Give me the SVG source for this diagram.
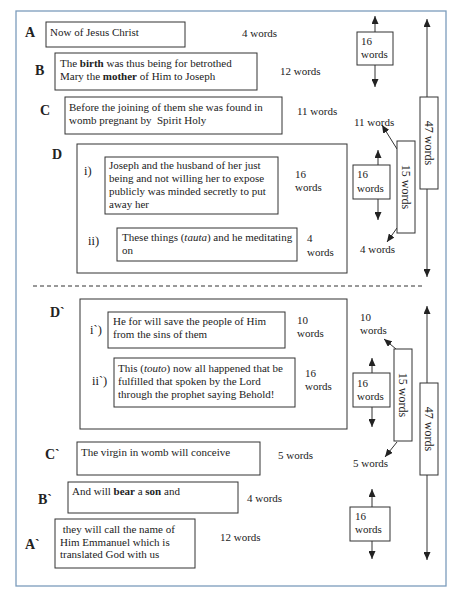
<svg xmlns="http://www.w3.org/2000/svg" width="460" height="601" viewBox="0 0 460 601">
<style>
text{font-family:"Liberation Serif","Times New Roman",serif;fill:#222;font-size:11px}
.lbl{font-size:14px;font-weight:bold}
.sub{font-size:12.5px}
.rot{font-size:12px;text-anchor:middle;dominant-baseline:central}
.box{fill:#fff;stroke:#333;stroke-width:1}
.con{stroke:#333;stroke-width:1;fill:none}
</style>
<defs>
<marker id="ah" markerUnits="userSpaceOnUse" markerWidth="8" markerHeight="7" refX="8" refY="3.5" orient="auto-start-reverse">
<path d="M0,0 L8,3.5 L0,7 z" fill="#222"/>
</marker>
</defs>
<rect x="0" y="0" width="460" height="601" fill="#fff"/>
<rect x="16" y="11" width="430" height="575" fill="none" stroke="#7c9cbc" stroke-width="1.3"/>
<line x1="33" y1="286" x2="422" y2="286" stroke="#333" stroke-width="1" stroke-dasharray="4,3"/>

<g id="connectors">
<line class="con" x1="375" y1="32" x2="375" y2="16" marker-end="url(#ah)"/>
<line class="con" x1="375" y1="65" x2="375" y2="87" marker-end="url(#ah)"/>
<line class="con" x1="427" y1="19" x2="427" y2="277" marker-start="url(#ah)" marker-end="url(#ah)"/>
<line class="con" x1="397" y1="149" x2="382" y2="125" marker-end="url(#ah)"/>
<line class="con" x1="397" y1="228" x2="387" y2="242" marker-end="url(#ah)"/>
<line class="con" x1="378" y1="165" x2="378" y2="150" marker-end="url(#ah)"/>
<line class="con" x1="378" y1="199" x2="378" y2="220" marker-end="url(#ah)"/>
<line class="con" x1="396" y1="349" x2="384" y2="339" marker-end="url(#ah)"/>
<line class="con" x1="397" y1="442" x2="385" y2="457" marker-end="url(#ah)"/>
<line class="con" x1="372" y1="373" x2="372" y2="358" marker-end="url(#ah)"/>
<line class="con" x1="372" y1="407" x2="372" y2="427" marker-end="url(#ah)"/>
<line class="con" x1="427" y1="306" x2="427" y2="560" marker-start="url(#ah)" marker-end="url(#ah)"/>
<line class="con" x1="372" y1="507" x2="372" y2="489" marker-end="url(#ah)"/>
<line class="con" x1="372" y1="541" x2="372" y2="559" marker-end="url(#ah)"/>
</g>

<g id="nodeA">
<text class="lbl" x="25" y="37">A</text>
<rect class="box" x="46" y="22" width="139" height="25"/>
<text x="50" y="36">Now of Jesus Christ</text>
<text x="242" y="37">4 words</text>
</g>

<g id="nodeB">
<text class="lbl" x="35" y="75">B</text>
<rect class="box" x="55" y="53" width="202" height="37"/>
<text x="60" y="67">The <tspan font-weight="bold">birth</tspan> was thus being for betrothed</text>
<text x="60" y="80">Mary the <tspan font-weight="bold">mother</tspan> of Him to Joseph</text>
<text x="280" y="75">12 words</text>
</g>

<g id="nodeC">
<text class="lbl" x="40" y="115">C</text>
<rect class="box" x="65" y="97" width="217" height="37"/>
<text x="69" y="111">Before the joining of them she was found in</text>
<text x="69" y="124" xml:space="preserve">womb pregnant by  Spirit Holy</text>
<text x="297" y="115">11 words</text>
</g>

<g id="nodeD">
<text class="lbl" x="52" y="159">D</text>
<rect class="box" x="77" y="144" width="270" height="129"/>
</g>

<g id="nodeDi">
<text class="sub" x="84" y="175">i)</text>
<rect class="box" x="105" y="157" width="173" height="57"/>
<text x="109" y="169">Joseph and the husband of her just</text>
<text x="109" y="182">being and not willing her to expose</text>
<text x="109" y="195">publicly was minded secretly to put</text>
<text x="109" y="208">away her</text>
<text x="295" y="178">16</text>
<text x="295" y="191">words</text>
</g>

<g id="nodeDii">
<text class="sub" x="88" y="245">ii)</text>
<rect class="box" x="117" y="228" width="180" height="33"/>
<text x="122" y="241">These things (<tspan font-style="italic">tauta</tspan>) and he meditating</text>
<text x="122" y="254">on</text>
<text x="307" y="242">4</text>
<text x="307" y="256">words</text>
</g>

<g id="nodeDp">
<text class="lbl" x="50" y="317">D`</text>
<rect class="box" x="80" y="299" width="267" height="130"/>
</g>

<g id="nodeDpi">
<text class="sub" x="90" y="334">i`)</text>
<rect class="box" x="108" y="312" width="177" height="36"/>
<text x="113" y="325">He for will save the people of Him</text>
<text x="113" y="338">from the sins of them</text>
<text x="297" y="324">10</text>
<text x="297" y="337">words</text>
</g>

<g id="nodeDpii">
<text class="sub" x="92" y="385">ii`)</text>
<rect class="box" x="114" y="358" width="181" height="49"/>
<text x="118" y="372">This (<tspan font-style="italic">touto</tspan>) now all happened that be</text>
<text x="118" y="385">fulfilled that spoken by the Lord</text>
<text x="118" y="398">through the prophet saying Behold!</text>
<text x="305" y="377">16</text>
<text x="305" y="390">words</text>
</g>

<g id="nodeCp">
<text class="lbl" x="45" y="459">C`</text>
<rect class="box" x="77" y="442" width="183" height="33"/>
<text x="81" y="456">The virgin in womb will conceive</text>
<text x="278" y="459">5 words</text>
</g>

<g id="nodeBp">
<text class="lbl" x="38" y="504">B`</text>
<rect class="box" x="68" y="482" width="170" height="31"/>
<text x="72" y="495">And will <tspan font-weight="bold">bear</tspan> a <tspan font-weight="bold">son</tspan> and</text>
<text x="247" y="502">4 words</text>
</g>

<g id="nodeAp">
<text class="lbl" x="25" y="549">A`</text>
<rect class="box" x="55" y="519" width="140" height="49"/>
<text x="60" y="533" xml:space="preserve"> they will call the name of</text>
<text x="60" y="546">Him Emmanuel which is</text>
<text x="60" y="558">translated God with us</text>
<text x="220" y="541">12 words</text>
</g>

<g id="count16a">
<rect class="box" x="357" y="32" width="36" height="33"/>
<text x="361" y="45">16</text>
<text x="361" y="58">words</text>
</g>

<g id="count47a">
<rect class="box" x="420" y="97" width="18" height="92"/>
<text class="rot" transform="rotate(90 429 143)" x="429" y="143">47 words</text>
</g>

<g id="count11">
<text x="354" y="126">11 words</text>
</g>

<g id="count15a">
<rect class="box" x="397" y="141" width="18" height="92"/>
<text class="rot" transform="rotate(90 406 187)" x="406" y="187">15 words</text>
</g>

<g id="count16b">
<rect class="box" x="353" y="165" width="37" height="34"/>
<text x="357" y="178">16</text>
<text x="357" y="192">words</text>
</g>

<g id="count4">
<text x="360" y="253">4 words</text>
</g>

<g id="count10">
<text x="360" y="321">10</text>
<text x="360" y="334">words</text>
</g>

<g id="count15b">
<rect class="box" x="394" y="349" width="18" height="92"/>
<text class="rot" transform="rotate(90 403 395)" x="403" y="395">15 words</text>
</g>

<g id="count16c">
<rect class="box" x="353" y="373" width="37" height="34"/>
<text x="357" y="387">16</text>
<text x="357" y="400">words</text>
</g>

<g id="count5">
<text x="353" y="467">5 words</text>
</g>

<g id="count47b">
<rect class="box" x="420" y="383" width="18" height="92"/>
<text class="rot" transform="rotate(90 429 429)" x="429" y="429">47 words</text>
</g>

<g id="count16d">
<rect class="box" x="350" y="507" width="40" height="34"/>
<text x="355" y="520">16</text>
<text x="355" y="533">words</text>
</g>
</svg>
